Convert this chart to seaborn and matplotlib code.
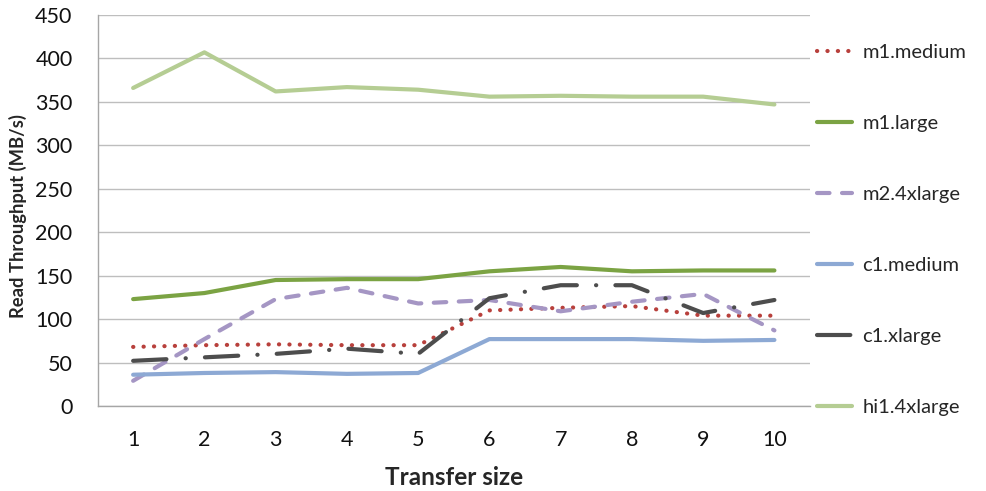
import pandas as pd
import numpy as np
import matplotlib
matplotlib.use('Agg')
import matplotlib.pyplot as plt
import seaborn as sns

# данные
transfer_size = [1, 2, 3, 4, 5, 6, 7, 8, 9, 10]
m1_medium = [68, 70, 71, 70, 70, 110, 113, 115, 104, 104]
m1_large = [123, 130, 145, 146, 146, 155, 160, 155, 156, 156]
m2_4xlarge = [29, 77, 123, 136, 118, 122, 109, 120, 129, 87]
c1_medium = [36, 38, 39, 37, 38, 77, 77, 77, 75, 76]
c1_xlarge = [52, 56, 60, 66, 60, 124, 139, 139, 107, 122]
hi1_4xlarge = [366, 407, 362, 367, 364, 356, 357, 356, 356, 347]

series_names = ['m1.medium', 'm1.large', 'm2.4xlarge', 'c1.medium', 'c1.xlarge', 'hi1.4xlarge']
series_values = [m1_medium, m1_large, m2_4xlarge, c1_medium, c1_xlarge, hi1_4xlarge]

df = pd.DataFrame({
    'size': transfer_size * len(series_names),
    'value': sum(series_values, []),
    'series': np.repeat(series_names, len(transfer_size)),
})

styles = {
    'm1.medium': dict(color='#B8403C', linestyle=(0, (0.05, 2.45))),
    'm1.large': dict(color='#7BA343', linestyle='-'),
    'm2.4xlarge': dict(color='#A596C4', linestyle=(0, (3, 3))),
    'c1.medium': dict(color='#8DA9D4', linestyle='-'),
    'c1.xlarge': dict(color='#4D4D4D', linestyle=(0, (8, 4.6, 0.05, 4.6))),
    'hi1.4xlarge': dict(color='#B5CD93', linestyle='-'),
}

sns.set_style('white')
plt.rcParams['font.family'] = ['Lato', 'DejaVu Sans']

fig = plt.figure(figsize=(9.87, 4.91), dpi=100)
ax = fig.add_axes([0.0988, 0.1731, 0.7219, 0.7964])

for name in series_names:
    sub = df[df['series'] == name]
    sns.lineplot(data=sub, x='size', y='value', ax=ax, label=name,
                 linewidth=3, dash_capstyle='round', solid_capstyle='round',
                 **styles[name])

ax.set_xlim(0.5, 10.5)
ax.set_ylim(0, 450)
ax.set_xticks(transfer_size)
ax.set_yticks(np.arange(0, 451, 50))
ax.tick_params(axis='x', length=0, labelsize=15.5, pad=17, labelcolor='#111111')
ax.tick_params(axis='y', length=7, width=1, color='#A6A6A6', labelsize=15.5,
               pad=11, labelcolor='#111111')
ax.yaxis.grid(True, color='#BEBEBE', linewidth=1)
ax.set_axisbelow(True)
for side in ['top', 'right']:
    ax.spines[side].set_visible(False)
for side in ['left', 'bottom']:
    ax.spines[side].set_color('#A6A6A6')
    ax.spines[side].set_linewidth(1)

ax.set_xlabel('Transfer size', fontsize=17.5, fontweight='bold', labelpad=12)
ax.set_ylabel('Read Throughput (MB/s)', fontsize=13.2, fontweight='bold')
ax.yaxis.set_label_coords(-0.099, 0.486)

ax.legend(loc='upper left', bbox_to_anchor=(1.01, 0.927), frameon=False,
          fontsize=14.5, handlelength=1.75, handletextpad=0.5, labelspacing=2.68,
          borderaxespad=0, borderpad=0)

fig.savefig('out.png', dpi=100)
